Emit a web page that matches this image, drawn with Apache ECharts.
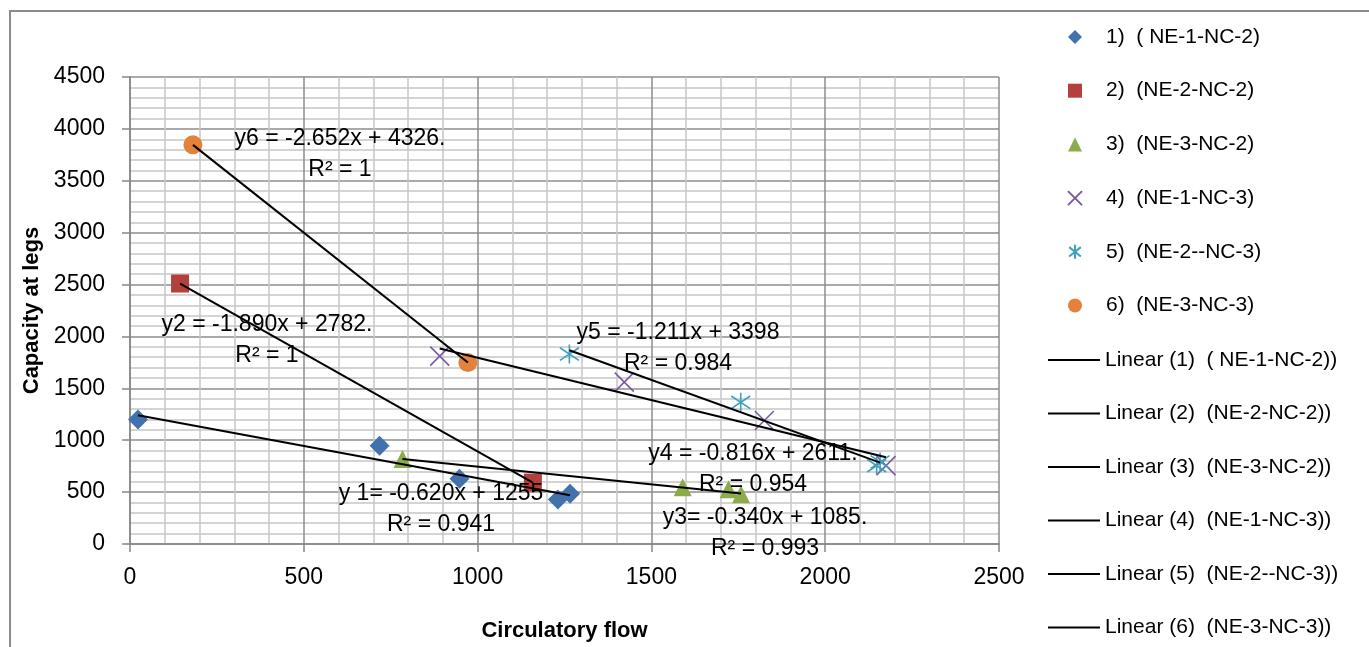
<!DOCTYPE html>
<html>
<head>
<meta charset="utf-8">
<script src="https://cdn.jsdelivr.net/npm/echarts@6/dist/echarts.min.js"></script>
<style>
  html, body { margin: 0; padding: 0; background: #fff; }
  #chart { width: 1369px; height: 647px; }
</style>
</head>
<body>
<div id="chart"></div>
<script>
// Measured points: circulatory flow (x) against capacity at legs (y)
const seriesNames = ['1)  ( NE-1-NC-2)', '2)  (NE-2-NC-2)', '3)  (NE-3-NC-2)',
                     '4)  (NE-1-NC-3)', '5)  (NE-2--NC-3)', '6)  (NE-3-NC-3)'];
const flow1 = [23, 718, 948, 1231, 1266];
const cap1  = [1200, 947, 628, 430, 485];
const flow2 = [144, 1159];
const cap2  = [2510, 592];
const flow3 = [784, 1590, 1722, 1758];
const cap3  = [818, 548, 528, 480];
const flow4 = [891, 1422, 1825, 2175];
const cap4  = [1810, 1560, 1190, 755];
const flow5 = [1264, 1757, 2148, 2158];
const cap5  = [1830, 1365, 755, 790];
const flow6 = [181, 972];
const cap6  = [3846, 1748];

// Linear trend lines: y = slope * x + intercept
const slopes     = [-0.620, -1.890, -0.340, -0.816, -1.211, -2.652];
const intercepts = [1255, 2782, 1085, 2611, 3398, 4326];
const trendNames = ['Linear (1)  ( NE-1-NC-2))', 'Linear (2)  (NE-2-NC-2))', 'Linear (3)  (NE-3-NC-2))',
                    'Linear (4)  (NE-1-NC-3))', 'Linear (5)  (NE-2--NC-3))', 'Linear (6)  (NE-3-NC-3))'];
const equationText = ['y 1= -0.620x + 1255', 'y2 = -1.890x + 2782.', 'y3= -0.340x + 1085.',
                      'y4 = -0.816x + 2611.', 'y5 = -1.211x + 3398', 'y6 = -2.652x + 4326.'];
const r2Text = ['R² = 0.941', 'R² = 1', 'R² = 0.993', 'R² = 0.954', 'R² = 0.984', 'R² = 1'];

const flows = [flow1, flow2, flow3, flow4, flow5, flow6];
const caps  = [cap1, cap2, cap3, cap4, cap5, cap6];

const FONT = '"Liberation Sans", Arial, sans-serif';
const colors = ['#4272AE', '#B3403C', '#8CAB4A', '#7A5C9F', '#3CA1BB', '#E3823A'];
const symbols = [
  'diamond', 'rect', 'triangle',
  'path://M0 0L10 10M10 0L0 10',
  'path://M0 1L10 9M10 1L0 9M5 -1L5 11',
  'circle'
];
const symbolSizes = [20, 18, 18, 19, 19, 19];

// Equation label blocks (centre x, centre y of first line)
const labelPos = [[441, 493], [267, 324], [765, 517], [753, 453], [678, 332], [340, 138]];

const scatterSeries = flows.map((fx, i) => {
  const stroked = symbols[i].startsWith('path://');
  return {
    name: seriesNames[i],
    type: 'scatter',
    symbol: symbols[i],
    symbolSize: symbolSizes[i],
    z: 2,
    itemStyle: stroked
      ? { color: 'rgba(0,0,0,0)', borderColor: colors[i], borderWidth: 1.6, opacity: 1 }
      : { color: colors[i], opacity: 1 },
    data: fx.map((x, k) => [x, caps[i][k]])
  };
});

const trendSeries = flows.map((fx, i) => {
  const x0 = Math.min(...fx), x1 = Math.max(...fx);
  return {
    name: trendNames[i],
    type: 'line',
    symbol: 'none',
    z: 3,
    lineStyle: { color: '#000', width: 2 },
    itemStyle: { color: '#000' },
    data: [[x0, slopes[i] * x0 + intercepts[i]], [x1, slopes[i] * x1 + intercepts[i]]]
  };
});

const equationGraphics = labelPos.map((p, i) => ({
  type: 'text',
  x: p[0],
  y: p[1] - 15,
  z: 100,
  style: {
    text: equationText[i] + '\n' + r2Text[i],
    font: '23px ' + FONT,
    fill: '#000',
    align: 'center',
    verticalAlign: 'top',
    lineHeight: 31
  }
}));

const plain = v => String(v);

const chart = echarts.init(document.getElementById('chart'), null, { renderer: 'canvas' });
chart.setOption({
  animation: false,
  backgroundColor: '#fff',
  grid: { left: 130, right: 370, top: 77, bottom: 90, containLabel: false },
  xAxis: {
    type: 'value', min: 0, max: 2500, interval: 500,
    name: 'Circulatory flow', nameLocation: 'middle', nameGap: 76,
    nameTextStyle: { fontFamily: FONT, fontSize: 22, fontWeight: 'bold', color: '#000' },
    axisLine: { show: true, onZero: false, lineStyle: { color: '#868686', width: 1.5 } },
    axisTick: { show: true, length: 8, lineStyle: { color: '#868686', width: 1.5 } },
    axisLabel: { fontFamily: FONT, fontSize: 23, color: '#000', margin: 22, formatter: plain },
    splitLine: { show: true, lineStyle: { color: '#8c8c8c', width: 1.5 } },
    minorTick: { show: false, splitNumber: 5 },
    minorSplitLine: { show: true, lineStyle: { color: '#c6c6c6', width: 1.5 } }
  },
  yAxis: {
    type: 'value', min: 0, max: 4500, interval: 500,
    name: 'Capacity at legs', nameLocation: 'middle', nameGap: 86,
    nameTextStyle: { fontFamily: FONT, fontSize: 22, fontWeight: 'bold', color: '#000' },
    axisLine: { show: true, onZero: false, lineStyle: { color: '#868686', width: 1.5 } },
    axisTick: { show: true, length: 8, lineStyle: { color: '#868686', width: 1.5 } },
    axisLabel: { fontFamily: FONT, fontSize: 23, color: '#000', margin: 25, formatter: plain },
    splitLine: { show: true, lineStyle: { color: '#8c8c8c', width: 1.5 } },
    minorTick: { show: false, splitNumber: 5 },
    minorSplitLine: { show: true, lineStyle: { color: '#c6c6c6', width: 1.5 } }
  },
  legend: [
    {
      data: seriesNames,
      orient: 'vertical', left: 1067, top: 25, padding: 0,
      itemWidth: 14, itemHeight: 14, itemGap: 29.7,
      selectedMode: false,
      textStyle: { fontFamily: FONT, fontSize: 21, color: '#000', lineHeight: 24, padding: [0, 0, 0, 19] }
    },
    {
      data: trendNames,
      orient: 'vertical', left: 1048, top: 348, padding: 0,
      icon: 'rect', itemWidth: 52, itemHeight: 2, itemGap: 29.5,
      selectedMode: false,
      textStyle: { fontFamily: FONT, fontSize: 21, color: '#000', lineHeight: 24 }
    }
  ],
  graphic: [
    {
      type: 'polyline',
      shape: { points: [[10, 647], [10, 11], [1369, 11]] },
      style: { stroke: '#8c8c8c', lineWidth: 2, fill: null },
      silent: true
    }
  ].concat(equationGraphics),
  series: scatterSeries.concat(trendSeries)
});
</script>
</body>
</html>
